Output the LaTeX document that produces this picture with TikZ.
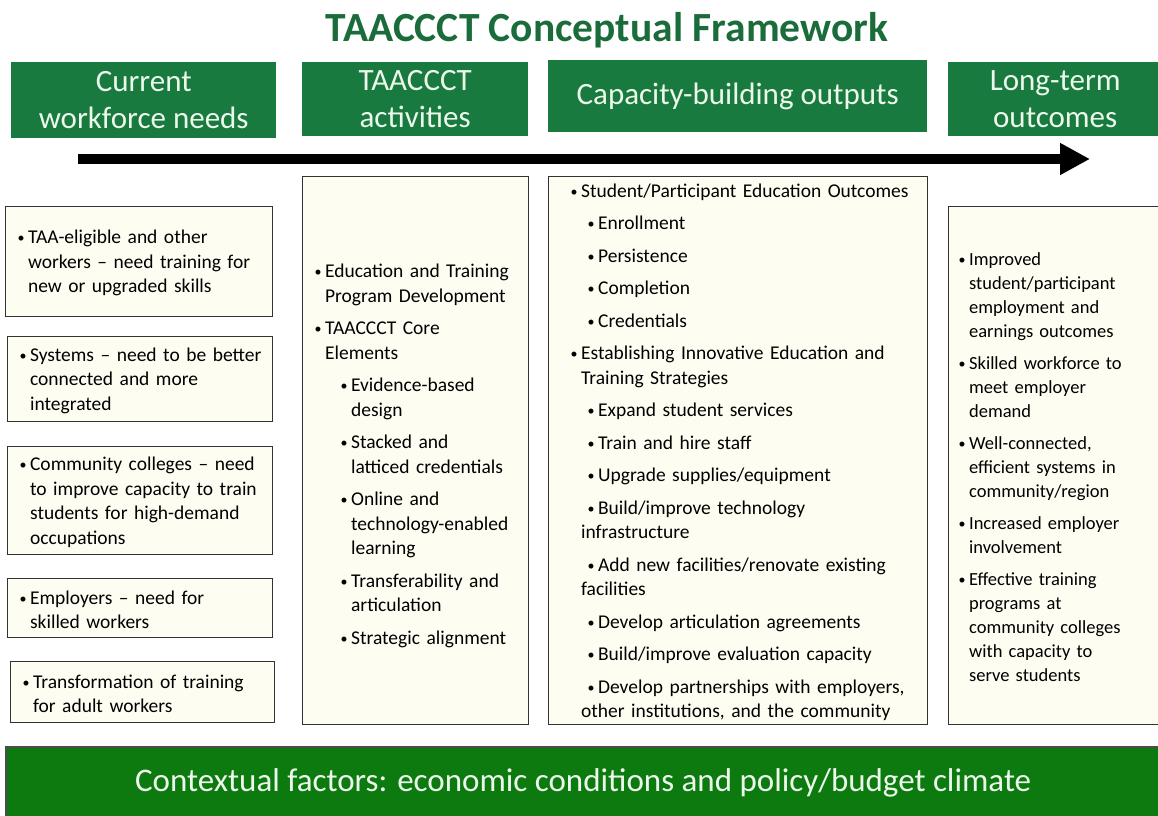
\documentclass[tikz,border=0pt]{standalone}
\usepackage{fontspec}
\setmainfont{Carlito}
\usetikzlibrary{arrows.meta, positioning}

\definecolor{hdrgreen}{RGB}{24,122,62}
\definecolor{titlegreen}{RGB}{26,108,58}
\definecolor{bargreen}{RGB}{12,122,14}
\definecolor{ivory}{RGB}{253,253,242}
\definecolor{paletext}{RGB}{236,248,236}

% bullet paragraphs (optional left indent for nested items)
\newlength{\itemgap}\setlength{\itemgap}{8pt}
\newlength{\topcut}\setlength{\topcut}{8pt}
\newif\iffirstitem
\newcommand{\itemstart}{\par\iffirstitem\vskip-\topcut\global\firstitemfalse\else\vskip\itemgap\fi}
\newcommand{\dotmark}{\raisebox{1pt}{\fontsize{14}{14}\selectfont\textbullet}}
\newcommand{\bul}[1][0pt]{\itemstart
	\leftskip=#1\relax\rightskip=-40pt plus 1fil\hangindent=10.5pt\hangafter=1%
	\noindent\makebox[10.5pt][l]{\dotmark}\ignorespaces}
\newcommand{\subbul}{\itemstart
	\leftskip=0pt\rightskip=-40pt plus 1fil\hangindent=10.5pt\hangafter=1%
	\noindent\hspace*{17pt}\makebox[10.5pt][l]{\dotmark}\ignorespaces}

\begin{document}
\begin{tikzpicture}[
		x=1pt, y=-1pt,
		>=Latex,
		hdr/.style   ={fill=hdrgreen, text=paletext, align=center, anchor=north west, inner sep=0pt, font=\fontsize{31}{37}\selectfont},
		itembox/.style={draw=black!80, line width=1.2pt, fill=ivory, anchor=north west, align=left, inner xsep=12pt, inner ysep=0pt,
			font=\fontsize{19.5}{24.5}\selectfont, execute at begin node={\global\firstitemtrue}},
		textcut/.code={\setlength{\topcut}{#1}},
		ctxbar/.style={draw=black!70, line width=1.5pt, fill=bargreen, text=paletext, anchor=north west, inner sep=0pt, font=\fontsize{33}{38}\selectfont},
		timeline/.style={line width=10pt, -{Triangle[length=30pt, width=30pt]}}
		]
		\useasboundingbox (0,0) rectangle (1158,815);
		
		% --- Title ---
		\node[text=titlegreen, font=\fontsize{41.5}{46}\selectfont\bfseries] (title) at (607,30) {TAACCCT Conceptual Framework};
		
		% --- Column headers ---
		\node[hdr, minimum width=265pt, minimum height=76pt] (hdrneeds)   at (11,62)  {Current\\workforce needs};
		\node[hdr, minimum width=226pt, minimum height=74pt] (hdract)     at (302,62) {TAACCCT\\activities};
		\node[hdr, minimum width=379pt, minimum height=72pt] (hdroutputs) at (548,60) {Capacity-building outputs};
		\node[hdr, minimum width=214pt, minimum height=74pt] (hdrlong)    at (948,62) {Long-term\\outcomes};
		
		% --- Time arrow ---
		\coordinate (tlstart) at (78,159);
		\coordinate (tlend)   at (1090,159);
		\draw[timeline] (tlstart) -- (tlend);
		
		% --- Column 1: Current workforce needs ---
		\node[itembox, minimum width=267pt, minimum height=110pt, text width=243pt] (need1) at (5,206)
			{\bul TAA-eligible and other\newline workers – need training for\newline new or upgraded skills\par};
		\node[itembox, minimum width=265pt, minimum height=85pt, text width=241pt] (need2) at (7,336)
			{\bul Systems – need to be better\newline connected and more\newline integrated\par};
		\node[itembox, minimum width=265pt, minimum height=108pt, text width=241pt] (need3) at (7,446)
			{\bul Community colleges – need\newline to improve capacity to train\newline students for high-demand\newline occupations\par};
		\node[itembox, minimum width=265pt, minimum height=59pt, text width=241pt] (need4) at (7,578)
			{\bul Employers – need for\newline skilled workers\par};
		\node[itembox, minimum width=264pt, minimum height=61pt, text width=240pt] (need5) at (10,661)
			{\bul Transformation of training\newline for adult workers\par};
		
		% --- Column 2: TAACCCT activities ---
		\node[itembox, textcut=0pt, minimum width=226pt, minimum height=548pt, text width=202pt] (activities) at (302,176)
			{\bul Education and Training\newline Program Development
			 \bul TAACCCT Core\newline Elements
			 \bul[26pt] Evidence-based\newline design
			 \bul[26pt] Stacked and\newline latticed credentials
			 \bul[26pt] Online and\newline technology-enabled\newline learning
			 \bul[26pt] Transferability and\newline articulation
			 \bul[26pt] Strategic alignment\par};
		
		% --- Column 3: Capacity-building outputs ---
		\node[itembox, inner xsep=22pt, minimum width=379pt, minimum height=548pt, text width=335pt] (outputs) at (548,176)
			{\bul Student/Participant Education Outcomes
			 \subbul Enrollment
			 \subbul Persistence
			 \subbul Completion
			 \subbul Credentials
			 \bul Establishing Innovative Education and\newline Training Strategies
			 \subbul Expand student services
			 \subbul Train and hire staff
			 \subbul Upgrade supplies/equipment
			 \subbul Build/improve technology\newline infrastructure
			 \subbul Add new facilities/renovate existing\newline facilities
			 \subbul Develop articulation agreements
			 \subbul Build/improve evaluation capacity
			 \subbul Develop partnerships with employers,\newline other institutions, and the community\par};
		
		% --- Column 4: Long-term outcomes ---
		\node[itembox, inner xsep=10pt, minimum width=214pt, minimum height=518pt, text width=194pt, font=\fontsize{18.5}{24}\selectfont] (longterm) at (948,206)
			{\bul Improved\newline student/participant\newline employment and\newline earnings outcomes
			 \bul Skilled workforce to\newline meet employer\newline demand
			 \bul Well-connected,\newline efficient systems in\newline community/region
			 \bul Increased employer\newline involvement
			 \bul Effective training\newline programs at\newline community colleges\newline with capacity to\newline serve students\par};
		
		% --- Context bar ---
		\node[ctxbar, minimum width=1155pt, minimum height=72pt] (context) at (5,746)
			{Contextual factors: economic conditions and policy/budget climate};
		
\end{tikzpicture}
\end{document}
